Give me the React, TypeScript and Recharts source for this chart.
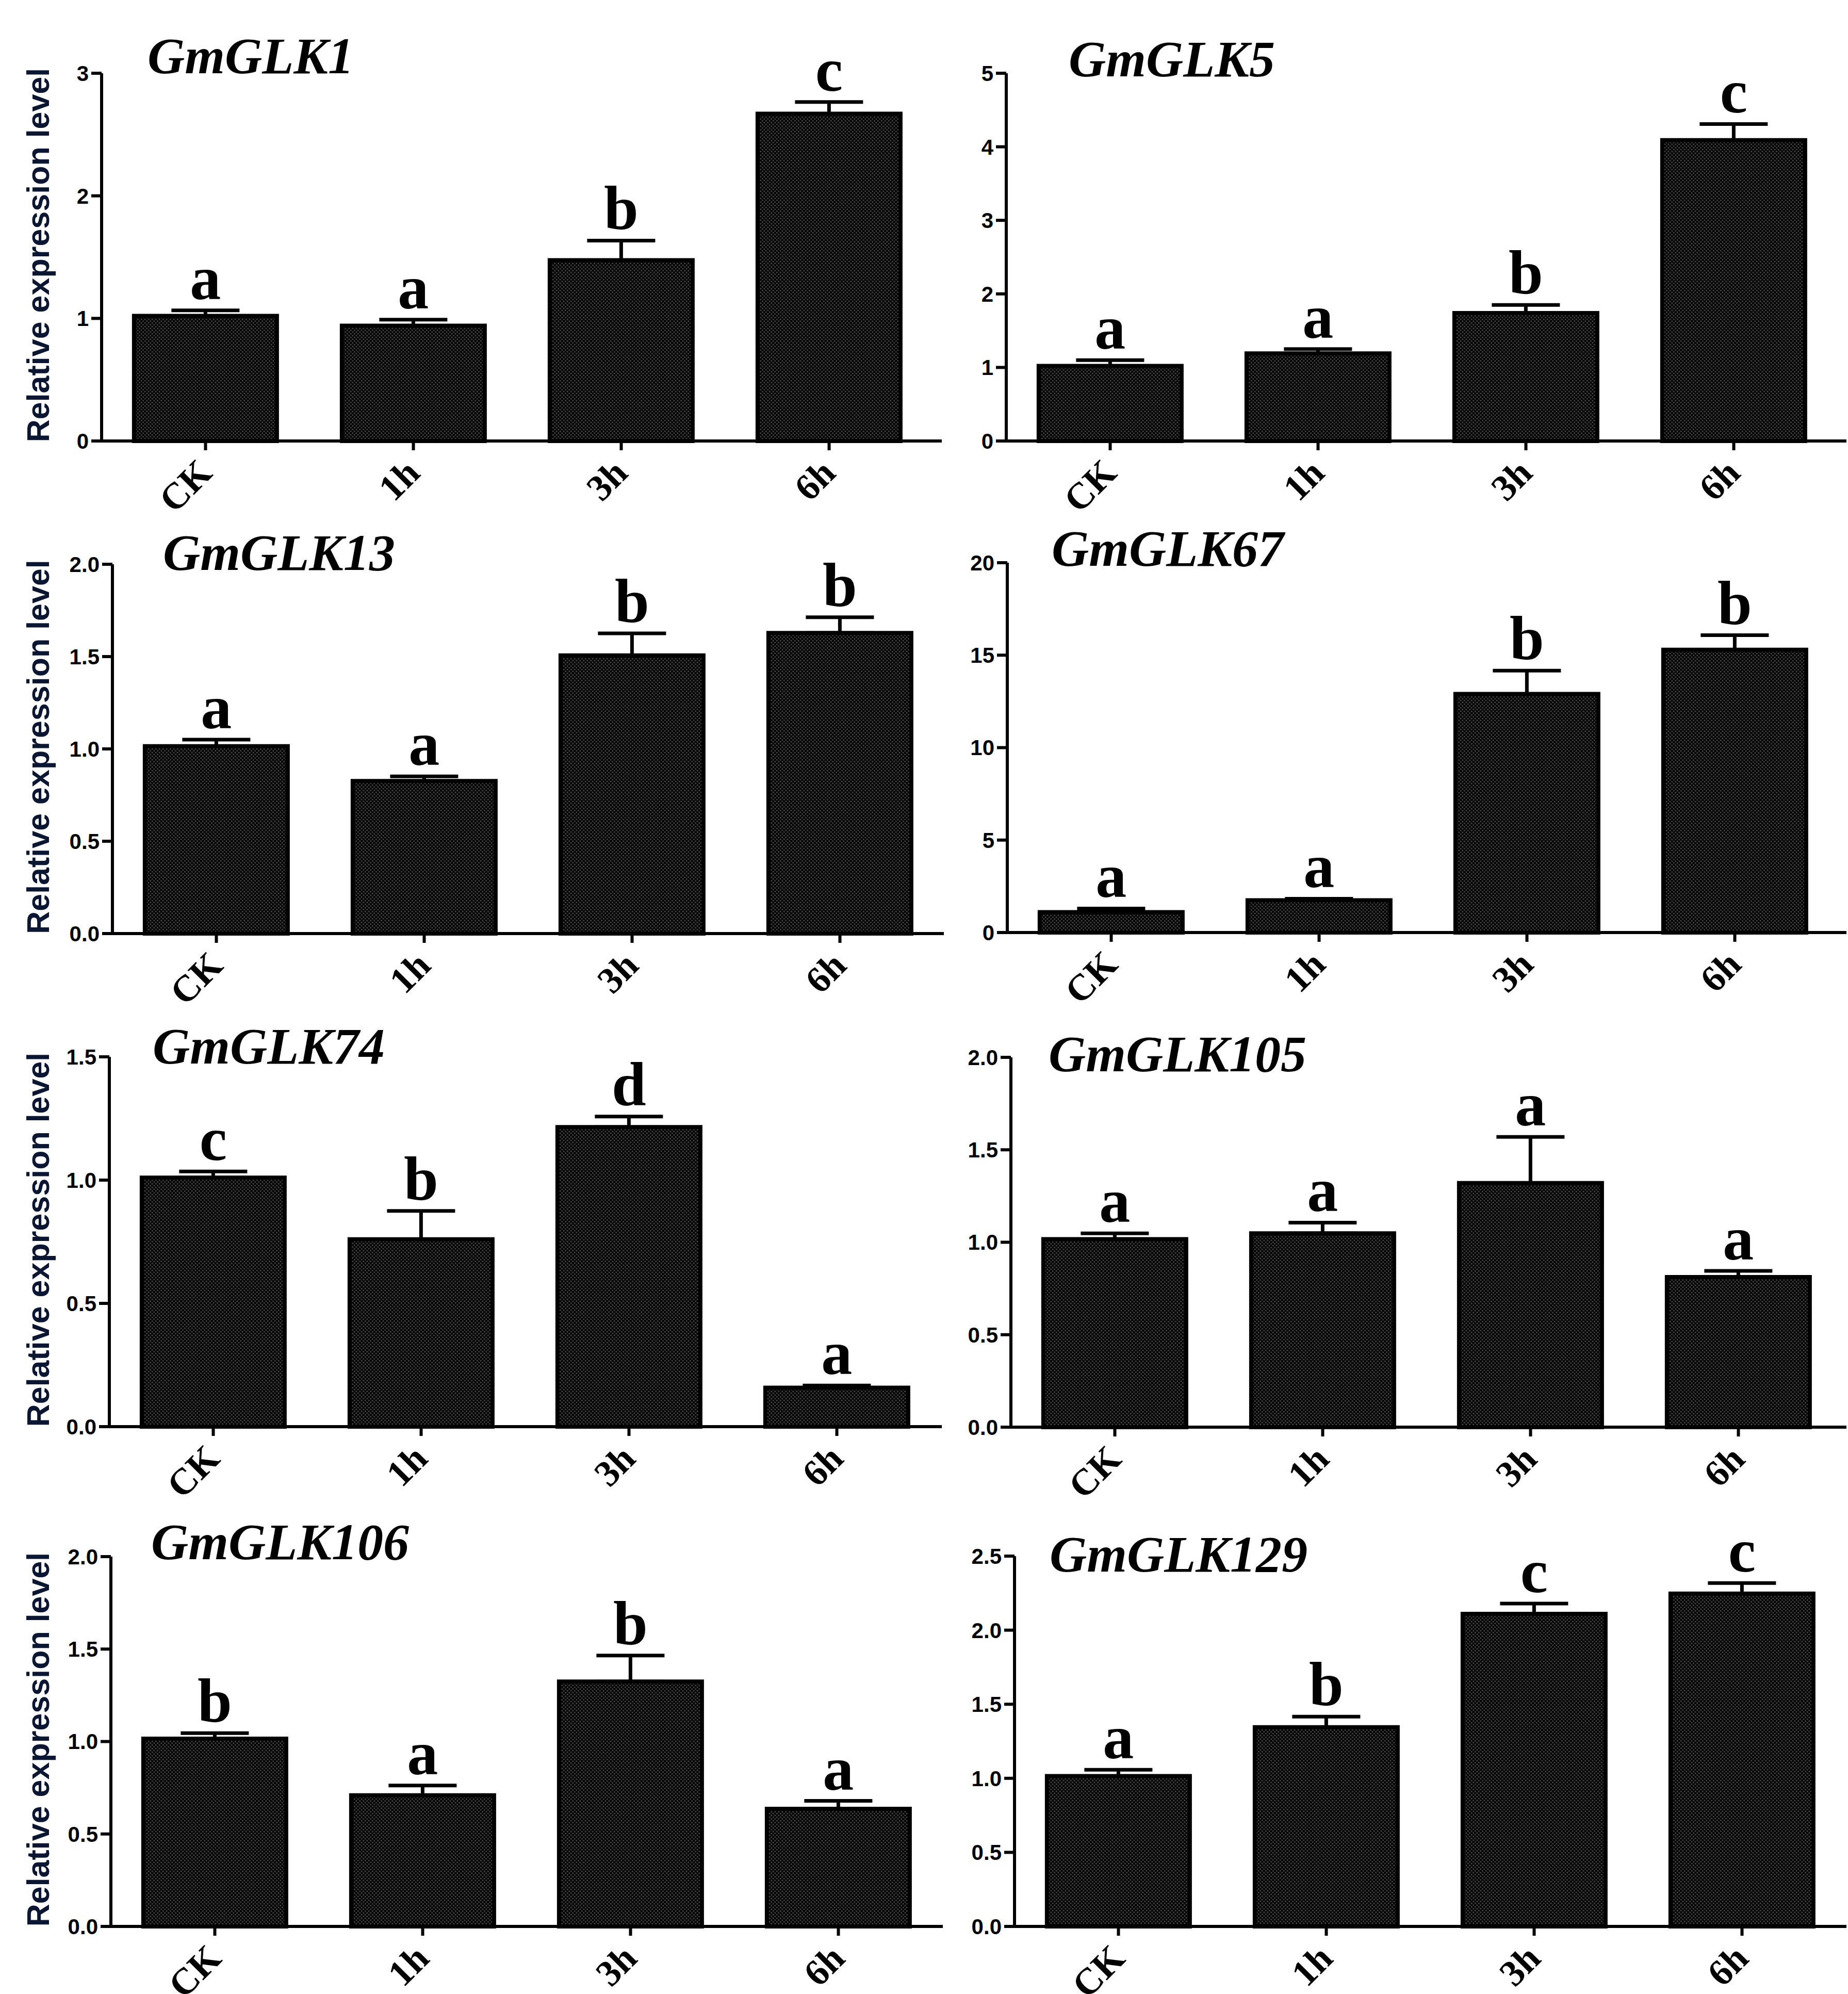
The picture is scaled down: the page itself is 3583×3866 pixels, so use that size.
import React from 'react';
import { BarChart, Bar, XAxis, YAxis, ErrorBar, LabelList } from 'recharts';

const timePoints = ['CK', '1h', '3h', '6h'];

const glk1Mean = [1.02, 0.94, 1.475, 2.67];
const glk1Err = [0.046, 0.05, 0.16, 0.095];
const glk1Letters = ['a', 'a', 'b', 'c'];
const glk1Ticks = [0, 1, 2, 3];
const glk1TickLabels = ['0', '1', '2', '3'];

const glk5Mean = [1.02, 1.19, 1.74, 4.09];
const glk5Err = [0.08, 0.06, 0.11, 0.22];
const glk5Letters = ['a', 'a', 'b', 'c'];
const glk5Ticks = [0, 1, 2, 3, 4, 5];
const glk5TickLabels = ['0', '1', '2', '3', '4', '5'];

const glk13Mean = [1.015, 0.826, 1.506, 1.628];
const glk13Err = [0.035, 0.025, 0.12, 0.085];
const glk13Letters = ['a', 'a', 'b', 'b'];
const glk13Ticks = [0, 0.5, 1, 1.5, 2];
const glk13TickLabels = ['0.0', '0.5', '1.0', '1.5', '2.0'];

const glk67Mean = [1.1, 1.74, 12.9, 15.29];
const glk67Err = [0.2, 0.09, 1.26, 0.79];
const glk67Letters = ['a', 'a', 'b', 'b'];
const glk67Ticks = [0, 5, 10, 15, 20];
const glk67TickLabels = ['0', '5', '10', '15', '20'];

const glk74Mean = [1.01, 0.76, 1.215, 0.158];
const glk74Err = [0.025, 0.115, 0.043, 0.009];
const glk74Letters = ['c', 'b', 'd', 'a'];
const glk74Ticks = [0, 0.5, 1, 1.5];
const glk74TickLabels = ['0.0', '0.5', '1.0', '1.5'];

const glk105Mean = [1.017, 1.048, 1.32, 0.812];
const glk105Err = [0.031, 0.058, 0.25, 0.033];
const glk105Letters = ['a', 'a', 'a', 'a'];
const glk105Ticks = [0, 0.5, 1, 1.5, 2];
const glk105TickLabels = ['0.0', '0.5', '1.0', '1.5', '2.0'];

const glk106Mean = [1.015, 0.709, 1.324, 0.636];
const glk106Err = [0.03, 0.053, 0.141, 0.043];
const glk106Letters = ['b', 'a', 'b', 'a'];
const glk106Ticks = [0, 0.5, 1, 1.5, 2];
const glk106TickLabels = ['0.0', '0.5', '1.0', '1.5', '2.0'];

const glk129Mean = [1.015, 1.345, 2.11, 2.247];
const glk129Err = [0.043, 0.071, 0.07, 0.071];
const glk129Letters = ['a', 'b', 'c', 'c'];
const glk129Ticks = [0, 0.5, 1, 1.5, 2, 2.5];
const glk129TickLabels = ['0.0', '0.5', '1.0', '1.5', '2.0', '2.5'];

const genes = [
  { name: 'GmGLK1', mean: glk1Mean, err: glk1Err, letters: glk1Letters, ticks: glk1Ticks, tickLabels: glk1TickLabels },
  { name: 'GmGLK5', mean: glk5Mean, err: glk5Err, letters: glk5Letters, ticks: glk5Ticks, tickLabels: glk5TickLabels },
  { name: 'GmGLK13', mean: glk13Mean, err: glk13Err, letters: glk13Letters, ticks: glk13Ticks, tickLabels: glk13TickLabels },
  { name: 'GmGLK67', mean: glk67Mean, err: glk67Err, letters: glk67Letters, ticks: glk67Ticks, tickLabels: glk67TickLabels },
  { name: 'GmGLK74', mean: glk74Mean, err: glk74Err, letters: glk74Letters, ticks: glk74Ticks, tickLabels: glk74TickLabels },
  { name: 'GmGLK105', mean: glk105Mean, err: glk105Err, letters: glk105Letters, ticks: glk105Ticks, tickLabels: glk105TickLabels },
  { name: 'GmGLK106', mean: glk106Mean, err: glk106Err, letters: glk106Letters, ticks: glk106Ticks, tickLabels: glk106TickLabels },
  { name: 'GmGLK129', mean: glk129Mean, err: glk129Err, letters: glk129Letters, ticks: glk129Ticks, tickLabels: glk129TickLabels },
];

// page positions of each panel (axis x, top tick y, zero line y, x-axis end, title baseline)
const layout = [
  { left: 0, axisX: 197, top: 142, zero: 855, end: 1826, titleX: 286, titleY: 142 },
  { left: 1830, axisX: 1951, top: 142, zero: 855, end: 3580, titleX: 2072, titleY: 148 },
  { left: 0, axisX: 218, top: 1094, zero: 1810, end: 1830, titleX: 316, titleY: 1105 },
  { left: 1830, axisX: 1953, top: 1091, zero: 1808, end: 3580, titleX: 2039, titleY: 1097 },
  { left: 0, axisX: 212, top: 2049, zero: 2766, end: 1826, titleX: 296, titleY: 2062 },
  { left: 1830, axisX: 1960, top: 2050, zero: 2767, end: 3580, titleX: 2033, titleY: 2077 },
  { left: 0, axisX: 215, top: 3018, zero: 3735, end: 1828, titleX: 293, titleY: 3023 },
  { left: 1830, axisX: 1967, top: 3017, zero: 3735, end: 3580, titleX: 2035, titleY: 3047 },
];

const BAND = 403;
const TOP_SPACE = 140;
const X_AXIS_H = 170;
const serif = "'Liberation Serif', 'Times New Roman', serif";
const sans = "'Liberation Sans', Arial, sans-serif";

const TimeTick = (props: any) => {
  const { x, y, payload } = props;
  const ax = x + 16;
  const ay = y + 46;
  return (
    <text
      x={ax}
      y={ay}
      transform={`rotate(-45 ${ax} ${ay})`}
      textAnchor="end"
      fontFamily={serif}
      fontWeight="bold"
      fontSize={72}
      fill="#000"
    >
      {payload.value}
    </text>
  );
};

const YTitle = (props: any) => {
  const { viewBox } = props;
  const cy = viewBox.y + viewBox.height / 2 - 4;
  return (
    <text
      x={74}
      y={cy}
      transform={`rotate(-90 74 ${cy})`}
      textAnchor="middle"
      dominantBaseline="central"
      fontFamily={sans}
      fontWeight="bold"
      fontSize={61}
      fill="#0b1633"
    >
      Relative expression level
    </text>
  );
};

const Panel = ({ gene, pos, idx }: any) => {
  const isLeft = pos.left === 0;
  const plotH = pos.zero - pos.top;
  const width = isLeft ? Math.max(pos.end, pos.axisX + BAND * 4) + 10 : 3583 - pos.left;
  const padRight = Math.max(0, pos.end - pos.axisX - BAND * 4);
  const rightMargin = width - (pos.axisX - pos.left) - BAND * 4 - padRight;
  const height = TOP_SPACE + plotH + X_AXIS_H;
  const yMax = gene.ticks[gene.ticks.length - 1];

  const data = timePoints.map((t, i) => ({
    time: t,
    mean: gene.mean[i],
    err: [0, gene.err[i]],
    letter: gene.letters[i],
  }));

  const patternId = `dots-${idx}`;

  const renderLetter = (p: any) => {
    const { x, y, width: w, height: h, index, value } = p;
    const m = gene.mean[index];
    const pxPerUnit = h / m;
    const capY = y - gene.err[index] * pxPerUnit;
    return (
      <text
        x={x + w / 2}
        y={capY - 22}
        textAnchor="middle"
        fontFamily={serif}
        fontWeight="bold"
        fontSize={120}
        fill="#000"
      >
        {value}
      </text>
    );
  };

  return (
    <div style={{ position: 'absolute', left: pos.left, top: pos.top - TOP_SPACE }}>
      <BarChart
        width={width}
        height={height}
        data={data}
        margin={{ top: TOP_SPACE, right: rightMargin, bottom: 0, left: 0 }}
        barCategoryGap="15.6%"
      >
        <defs>
          <pattern id={patternId} width={7} height={7} patternUnits="userSpaceOnUse">
            <rect width={7} height={7} fill="#060606" />
            <rect x={0} y={0} width={2.5} height={2.5} fill="#4a4a4a" />
            <rect x={3.5} y={3.5} width={2.5} height={2.5} fill="#4a4a4a" />
          </pattern>
        </defs>
        <XAxis
          dataKey="time"
          height={X_AXIS_H}
          interval={0}
          padding={{ left: 0, right: padRight }}
          tickSize={18}
          tickMargin={2}
          axisLine={{ stroke: '#000', strokeWidth: 6 }}
          tickLine={{ stroke: '#000', strokeWidth: 6 }}
          tick={<TimeTick />}
        />
        <YAxis
          type="number"
          width={pos.axisX - pos.left}
          domain={[0, yMax]}
          ticks={gene.ticks}
          interval={0}
          tickSize={20}
          tickMargin={5}
          tickFormatter={(v: number, i: number) => gene.tickLabels[i] ?? String(v)}
          axisLine={{ stroke: '#000', strokeWidth: 6 }}
          tickLine={{ stroke: '#000', strokeWidth: 6 }}
          tick={{ fontFamily: sans, fontWeight: 'bold', fontSize: 42, fill: '#000' }}
          label={isLeft ? <YTitle /> : undefined}
        />
        <Bar
          dataKey="mean"
          fill={`url(#${patternId})`}
          stroke="#000"
          strokeWidth={8}
          isAnimationActive={false}
        >
          <ErrorBar dataKey="err" direction="y" width={66} stroke="#000" strokeWidth={7} />
          <LabelList dataKey="letter" content={renderLetter} />
        </Bar>
      </BarChart>
    </div>
  );
};

export default function App() {
  return (
    <div
      style={{
        position: 'absolute',
        left: 0,
        top: 0,
        width: 3583,
        height: 3866,
        background: '#fff',
        overflow: 'hidden',
      }}
    >
      {genes.map((g, i) => (
        <Panel key={g.name} gene={g} pos={layout[i]} idx={i} />
      ))}
      <svg
        width={3583}
        height={3866}
        style={{ position: 'absolute', left: 0, top: 0, pointerEvents: 'none' }}
      >
        {genes.map((g, i) => (
          <text
            key={g.name}
            x={layout[i].titleX}
            y={layout[i].titleY}
            fontFamily={serif}
            fontStyle="italic"
            fontWeight="bold"
            fontSize={100}
            fill="#000"
          >
            {g.name}
          </text>
        ))}
      </svg>
    </div>
  );
}
